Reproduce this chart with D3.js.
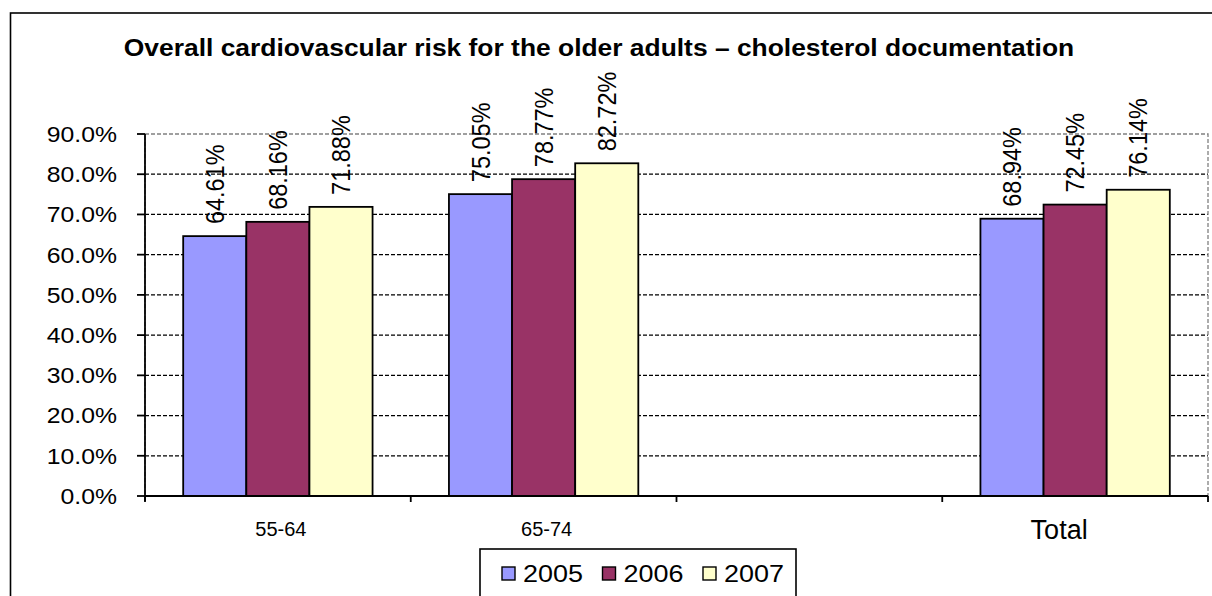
<!DOCTYPE html>
<html>
<head>
<meta charset="utf-8">
<script src="https://cdn.jsdelivr.net/npm/d3@7"></script>
<style>
  html, body { margin: 0; padding: 0; background: #fff; }
  svg { display: block; font-family: Arial, "Liberation Sans", sans-serif; }
</style>
</head>
<body>
<svg id="chart" width="1212" height="596"></svg>
<script>
// Age groups on the x axis (the third slot is an empty spacer category)
const categories = ["55-64", "65-74", "", "Total"];
// Survey years shown as series
const years = ["2005", "2006", "2007"];
// Share of older adults with cholesterol documented, per year
const values2005 = [0.6461, 0.7505, null, 0.6894];
const values2006 = [0.6816, 0.7877, null, 0.7245];
const values2007 = [0.7188, 0.8272, null, 0.7614];
// Y axis tick values
const yTicks = [0, 0.1, 0.2, 0.3, 0.4, 0.5, 0.6, 0.7, 0.8, 0.9];
const titleText = "Overall cardiovascular risk for the older adults \u2013 cholesterol documentation";

const seriesValues = [values2005, values2006, values2007];
const colors = ["#9999FF", "#993366", "#FFFFCC"];
const SX = 1.1; // horizontal glyph stretch used throughout the chart

const svg = d3.select("#chart");

// outer chart frame
svg.append("rect")
  .attr("x", 10.5).attr("y", 13).attr("width", 1240).attr("height", 640)
  .attr("fill", "#fff").attr("stroke", "#000").attr("stroke-width", 1.6);

const plot = { left: 145, right: 1208, top: 134, bottom: 496 };

const x = d3.scaleBand().domain(categories).range([plot.left, plot.right]).paddingInner(0).paddingOuter(0);
const xs = d3.scaleBand().domain(years).range([0, x.bandwidth()]).paddingInner(0).paddingOuter(0.605);
const y = d3.scaleLinear().domain([0, 0.9]).range([plot.bottom, plot.top]);

// text placed with a horizontal stretch around its anchor point
function placeText(g, tx, ty, str, opts) {
  const t = g.append("text")
    .attr("transform", `translate(${tx},${ty}) scale(${opts.sx || 1},1)` + (opts.rotate ? ` rotate(${opts.rotate})` : ""))
    .attr("text-anchor", opts.anchor || "start")
    .attr("font-size", opts.size)
    .attr("font-weight", opts.weight || "normal")
    .attr("fill", "#000")
    .text(str);
  if (opts.dy) t.attr("dy", opts.dy);
  return t;
}

// horizontal gridlines
svg.append("g").selectAll("line")
  .data(yTicks.filter(v => v > 0 && v < 0.9))
  .join("line")
  .attr("x1", plot.left).attr("x2", plot.right)
  .attr("y1", d => y(d)).attr("y2", d => y(d))
  .attr("stroke", "#000").attr("stroke-width", 1.3).attr("stroke-dasharray", "4,2");

// plot area border (grey dashed)
svg.append("rect")
  .attr("x", plot.left).attr("y", y(0.9))
  .attr("width", plot.right - plot.left).attr("height", plot.bottom - y(0.9))
  .attr("fill", "none").attr("stroke", "#808080").attr("stroke-width", 1.3).attr("stroke-dasharray", "4,2");

// bars
const groups = svg.append("g").selectAll("g")
  .data(years)
  .join("g")
  .attr("fill", (d, i) => colors[i]);

years.forEach((yr, si) => {
  const rows = categories.map((c, ci) => ({ cat: c, v: seriesValues[si][ci] })).filter(d => d.v != null);
  const g = groups.filter(d => d === yr);
  g.selectAll("rect")
    .data(rows)
    .join("rect")
    .attr("x", d => x(d.cat) + xs(yr))
    .attr("y", d => y(d.v))
    .attr("width", xs.bandwidth())
    .attr("height", d => y(0) - y(d.v))
    .attr("stroke", "#000").attr("stroke-width", 1.8);
});

// value labels, rotated
const fmt = d3.format(".2%");
const labelLayer = svg.append("g");
years.forEach((yr, si) => {
  categories.forEach((c, ci) => {
    const v = seriesValues[si][ci];
    if (v == null) return;
    placeText(labelLayer, x(c) + xs(yr) + xs.bandwidth() / 2, y(v) - 12, fmt(v),
      { size: 23.5, sx: SX, rotate: -90, anchor: "start", dy: "0.35em" });
  });
});

// y axis
const yAxis = svg.append("g");
yAxis.append("line")
  .attr("x1", plot.left).attr("x2", plot.left)
  .attr("y1", plot.top).attr("y2", plot.bottom + 5)
  .attr("stroke", "#000").attr("stroke-width", 1.8);
yAxis.selectAll("line.tick")
  .data(yTicks)
  .join("line").attr("class", "tick")
  .attr("x1", plot.left - 8).attr("x2", plot.left)
  .attr("y1", d => y(d)).attr("y2", d => y(d))
  .attr("stroke", "#000").attr("stroke-width", 1.8);
const yFmt = d3.format(".1%");
yTicks.forEach(v => {
  placeText(yAxis, 117, y(v), yFmt(v), { size: 22.5, sx: SX, anchor: "end", dy: "0.35em" });
});

// x axis
const xAxis = svg.append("g");
xAxis.append("line")
  .attr("x1", plot.left).attr("x2", plot.right)
  .attr("y1", plot.bottom).attr("y2", plot.bottom)
  .attr("stroke", "#000").attr("stroke-width", 1.8);
const boundaries = categories.map(c => x(c)).concat([plot.right]);
xAxis.selectAll("line.tick")
  .data(boundaries)
  .join("line").attr("class", "tick")
  .attr("x1", d => d).attr("x2", d => d)
  .attr("y1", plot.bottom).attr("y2", plot.bottom + 6)
  .attr("stroke", "#000").attr("stroke-width", 1.8);
categories.forEach(c => {
  if (!c) return;
  const big = c === "Total";
  placeText(xAxis, x(c) + x.bandwidth() / 2 + (big ? -16 : 3), big ? 539 : 536, c,
    { size: big ? 27 : 20, anchor: "middle" });
});

// title
placeText(svg, 599, 56, titleText, { size: 24, sx: SX, weight: "bold", anchor: "middle" });

// legend
const legend = svg.append("g");
legend.append("rect")
  .attr("x", 480).attr("y", 549).attr("width", 316).attr("height", 80)
  .attr("fill", "#fff").attr("stroke", "#000").attr("stroke-width", 1.6);
years.forEach((yr, i) => {
  const lx = 502 + i * 100.5;
  legend.append("rect")
    .attr("x", lx).attr("y", 567).attr("width", 13).attr("height", 13)
    .attr("fill", colors[i]).attr("stroke", "#000").attr("stroke-width", 1.4);
  placeText(legend, lx + 21, 582, yr, { size: 24.5, sx: SX, anchor: "start" });
});
</script>
</body>
</html>
